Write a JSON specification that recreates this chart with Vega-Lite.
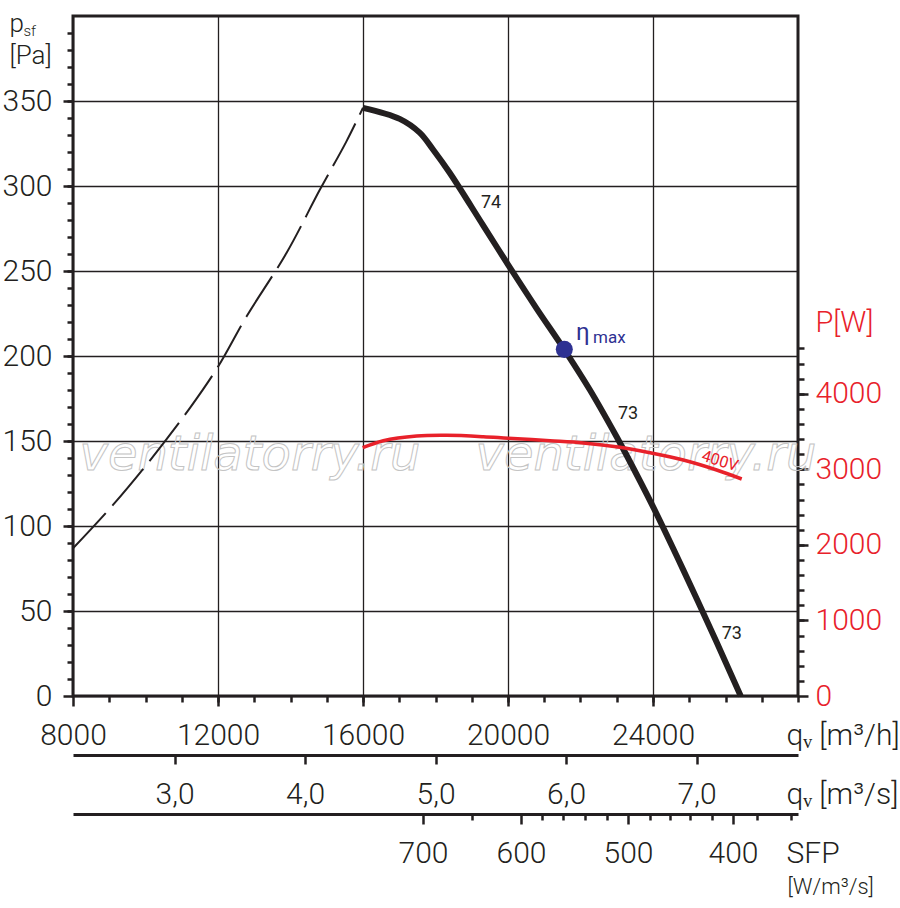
{
  "$schema": "https://vega.github.io/schema/vega-lite/v6.json",
  "width": 725,
  "height": 680,
  "autosize": {"type": "none"},
  "padding": {"left": 73, "top": 16, "right": 102, "bottom": 212},
  "background": "white",
  "config": {
    "font": "Roboto",
    "view": {"stroke": "#231f20", "strokeWidth": 3},
    "axis": {
      "labelFont": "Roboto", "labelFontSize": 30, "labelFontWeight": 300, "labelColor": "#231f20",
      "labelFlush": false, "labelOverlap": false, "labelBound": false,
      "tickColor": "#231f20", "tickWidth": 2.5,
      "domainColor": "#231f20", "domainWidth": 3,
      "gridColor": "#231f20", "gridWidth": 1.3, "grid": false,
      "titleFont": "Roboto", "titleFontWeight": 300, "titleColor": "#231f20"
    }
  },
  "datasets": {
    "dashed": [
      {"q": 8000, "p": 86.9}, {"q": 9103, "p": 112.4}, {"q": 10207, "p": 140.8}, {"q": 11218, "p": 169.2},
      {"q": 12000, "p": 193.7}, {"q": 12782, "p": 223.1}, {"q": 13885, "p": 260.4}, {"q": 14805, "p": 297.6},
      {"q": 15540, "p": 326.1}, {"q": 16000, "p": 346}
    ],
    "curve": [
      {"q": 16000, "p": 346}, {"q": 17011, "p": 339.5}, {"q": 17563, "p": 331.4}, {"q": 17931, "p": 321.5},
      {"q": 18391, "p": 307.8}, {"q": 19310, "p": 277}, {"q": 20000, "p": 253.8}, {"q": 20781, "p": 228.2},
      {"q": 21563, "p": 203.5}, {"q": 22253, "p": 180.3}, {"q": 22989, "p": 152.8}, {"q": 23264, "p": 141.9},
      {"q": 24000, "p": 111.4}, {"q": 24828, "p": 74.5}, {"q": 25747, "p": 32}, {"q": 26420, "p": 0}
    ],
    "power": [
      {"q": 15992, "w": 3286}, {"q": 16560, "w": 3379}, {"q": 17481, "w": 3441}, {"q": 18309, "w": 3450},
      {"q": 19319, "w": 3432}, {"q": 20008, "w": 3411}, {"q": 21158, "w": 3379}, {"q": 22077, "w": 3350},
      {"q": 23090, "w": 3292}, {"q": 23917, "w": 3220}, {"q": 24836, "w": 3123}, {"q": 25757, "w": 2991},
      {"q": 26447, "w": 2872}
    ],
    "eta": [{"q": 21553, "p": 203.9}],
    "labels": [
      {"q": 19255, "p": 287, "t": "74"},
      {"q": 23034, "p": 163, "t": "73"},
      {"q": 25895, "p": 33.7, "t": "73"}
    ],
    "etatext": [{"q": 21876, "p": 209.4, "t": "η"}],
    "maxtext": [{"q": 22345, "p": 207.6, "t": "max"}],
    "volt": [{"q": 25848, "w": 3110, "t": "400V"}],
    "watermark": [
      {"q": 12883, "p": 133, "t": "ventilatorry.ru"},
      {"q": 23807, "p": 133, "t": "ventilatorry.ru"}
    ]
  },
  "resolve": {
    "scale": {"x": "independent", "y": "independent"},
    "axis": {"x": "independent", "y": "independent"}
  },
  "layer": [
    {
      "data": {"name": "watermark"},
      "mark": {"type": "text", "font": "DejaVu Sans", "fontStyle": "italic", "fontSize": 48, "fillOpacity": 0, "stroke": "#c4c4c4", "strokeWidth": 1, "align": "center", "baseline": "alphabetic"},
      "encoding": {
        "x": {"field": "q", "type": "quantitative", "scale": {"domain": [8000, 28000], "nice": false, "zero": false}, "axis": null},
        "y": {"field": "p", "type": "quantitative", "scale": {"domain": [0, 400], "nice": false, "zero": false}, "axis": null},
        "text": {"field": "t"}
      }
    },
    {
      "data": {"name": "dashed"},
      "mark": {"type": "line", "color": "#231f20", "strokeWidth": 2, "strokeDash": [48, 10], "interpolate": "catmull-rom"},
      "encoding": {
        "x": {"field": "q", "type": "quantitative", "scale": {"domain": [8000, 28000], "nice": false, "zero": false},
          "axis": {"orient": "bottom", "values": [8000, 12000, 16000, 20000, 24000], "format": "d", "grid": true, "domain": false,
            "tickSize": 10, "labelPadding": 38, "labelBaseline": "alphabetic",
            "title": "qᵥ [m³/h]", "titleX": 713, "titleY": 48, "titleAlign": "left", "titleBaseline": "alphabetic", "titleFontSize": 30}},
        "y": {"field": "p", "type": "quantitative", "scale": {"domain": [0, 400], "nice": false, "zero": false},
          "axis": {"orient": "left", "values": [0, 50, 100, 150, 200, 250, 300, 350], "format": "d", "grid": true, "domain": false,
            "tickSize": 10, "labelPadding": 11,
            "title": "p", "titleAngle": 0, "titleX": -64, "titleY": 15, "titleAlign": "left", "titleBaseline": "alphabetic",
            "titleFontSize": 26}}
      }
    },
    {
      "data": {"name": "curve"},
      "mark": {"type": "line", "color": "#231f20", "strokeWidth": 6, "interpolate": "catmull-rom", "strokeCap": "butt"},
      "encoding": {
        "x": {"field": "q", "type": "quantitative", "scale": {"domain": [8000, 28000], "nice": false, "zero": false},
          "axis": {"orient": "bottom", "values": [9000, 10000, 11000, 12000, 13000, 14000, 15000, 16000, 17000, 18000, 19000, 20000, 21000, 22000, 23000, 24000, 25000, 26000, 27000, 28000],
            "labels": false, "domain": false, "tickSize": 6, "title": null}},
        "y": {"field": "p", "type": "quantitative", "scale": {"domain": [0, 400], "nice": false, "zero": false},
          "axis": {"orient": "left", "values": [10, 20, 30, 40, 50, 60, 70, 80, 90, 100, 110, 120, 130, 140, 150, 160, 170, 180, 190, 200, 210, 220, 230, 240, 250, 260, 270, 280, 290, 300, 310, 320, 330, 340, 350, 360, 370, 380, 390],
            "labels": false, "domain": false, "tickSize": 6,
            "title": "sf", "titleAngle": 0, "titleX": -50, "titleY": 19, "titleAlign": "left", "titleBaseline": "alphabetic", "titleFontSize": 15}}
      }
    },
    {
      "data": {"name": "power"},
      "mark": {"type": "line", "color": "#e8212a", "strokeWidth": 3.5, "interpolate": "catmull-rom"},
      "encoding": {
        "x": {"field": "q", "type": "quantitative", "scale": {"domain": [8000, 28000], "nice": false, "zero": false},
          "axis": {"orient": "bottom", "offset": 59, "values": [10800, 14400, 18000, 21600, 25200],
            "labelExpr": "replace(format(datum.value / 3600, '.1f'), '.', ',')",
            "domain": true, "tickSize": 9, "labelPadding": 39, "labelBaseline": "alphabetic",
            "title": "qᵥ [m³/s]", "titleX": 713, "titleY": 48, "titleAlign": "left", "titleBaseline": "alphabetic", "titleFontSize": 30}},
        "y": {"field": "w", "type": "quantitative", "scale": {"domain": [0, 9000], "nice": false, "zero": false},
          "axis": {"orient": "right", "values": [0, 1000, 2000, 3000, 4000], "format": "d", "domain": false,
            "tickSize": 10, "labelPadding": 7, "labelColor": "#e8212a",
            "title": "P[W]", "titleAngle": 0, "titleX": 17, "titleY": 315, "titleAlign": "left", "titleBaseline": "alphabetic",
            "titleColor": "#e8212a", "titleFontSize": 29}}
      }
    },
    {
      "data": {"name": "volt"},
      "mark": {"type": "text", "color": "#e8212a", "fontSize": 16, "angle": 17, "align": "center", "baseline": "middle", "font": "Roboto"},
      "encoding": {
        "x": {"field": "q", "type": "quantitative", "scale": {"domain": [8000, 28000], "nice": false, "zero": false},
          "axis": {"orient": "bottom", "offset": 118, "values": [17655, 20359, 23310, 26207],
            "labelExpr": "datum.value == 17655 ? '700' : datum.value == 20359 ? '600' : datum.value == 23310 ? '500' : '400'",
            "domain": true, "tickSize": 10, "labelPadding": 38, "labelBaseline": "alphabetic",
            "title": "SFP", "titleX": 713, "titleY": 48, "titleAlign": "left", "titleBaseline": "alphabetic", "titleFontSize": 30}},
        "y": {"field": "w", "type": "quantitative", "scale": {"domain": [0, 9000], "nice": false, "zero": false},
          "axis": {"orient": "right", "values": [200, 400, 600, 800, 1000, 1200, 1400, 1600, 1800, 2000, 2200, 2400, 2600, 2800, 3000, 3200, 3400, 3600, 3800, 4000, 4200, 4400, 4600],
            "labels": false, "domain": false, "tickSize": 6, "title": null}},
        "text": {"field": "t"}
      }
    },
    {
      "data": {"name": "eta"},
      "mark": {"type": "circle", "size": 290, "color": "#2e3192", "opacity": 1},
      "encoding": {
        "x": {"field": "q", "type": "quantitative", "scale": {"domain": [8000, 28000], "nice": false, "zero": false},
          "axis": {"orient": "bottom", "offset": 118, "values": [19007, 20938, 21517, 22124, 22731, 23917, 24469, 25021, 25628, 26869, 27807],
            "labels": false, "domain": false, "tickSize": 6,
            "title": "[W/m³/s]", "titleX": 714, "titleY": 79, "titleAlign": "left", "titleBaseline": "alphabetic", "titleFontSize": 22}},
        "y": {"field": "p", "type": "quantitative", "scale": {"domain": [0, 400], "nice": false, "zero": false}, "axis": null}
      }
    },
    {
      "data": {"name": "labels"},
      "mark": {"type": "text", "color": "#231f20", "fontSize": 18, "align": "left", "baseline": "alphabetic", "font": "Roboto"},
      "encoding": {
        "x": {"field": "q", "type": "quantitative", "scale": {"domain": [8000, 28000], "nice": false, "zero": false}, "axis": null},
        "y": {"field": "p", "type": "quantitative", "scale": {"domain": [0, 400], "nice": false, "zero": false},
          "axis": {"orient": "left", "ticks": false, "labels": false, "domain": false, "grid": false,
            "title": "[Pa]", "titleAngle": 0, "titleX": -64, "titleY": 47, "titleAlign": "left", "titleBaseline": "alphabetic", "titleFontSize": 26}},
        "text": {"field": "t"}
      }
    },
    {
      "data": {"name": "etatext"},
      "mark": {"type": "text", "color": "#2e3192", "fontSize": 24, "align": "left", "baseline": "alphabetic", "font": "Roboto"},
      "encoding": {
        "x": {"field": "q", "type": "quantitative", "scale": {"domain": [8000, 28000], "nice": false, "zero": false}, "axis": null},
        "y": {"field": "p", "type": "quantitative", "scale": {"domain": [0, 400], "nice": false, "zero": false}, "axis": null},
        "text": {"field": "t"}
      }
    },
    {
      "data": {"name": "maxtext"},
      "mark": {"type": "text", "color": "#2e3192", "fontSize": 17, "align": "left", "baseline": "alphabetic", "font": "Roboto"},
      "encoding": {
        "x": {"field": "q", "type": "quantitative", "scale": {"domain": [8000, 28000], "nice": false, "zero": false}, "axis": null},
        "y": {"field": "p", "type": "quantitative", "scale": {"domain": [0, 400], "nice": false, "zero": false}, "axis": null},
        "text": {"field": "t"}
      }
    }
  ]
}
